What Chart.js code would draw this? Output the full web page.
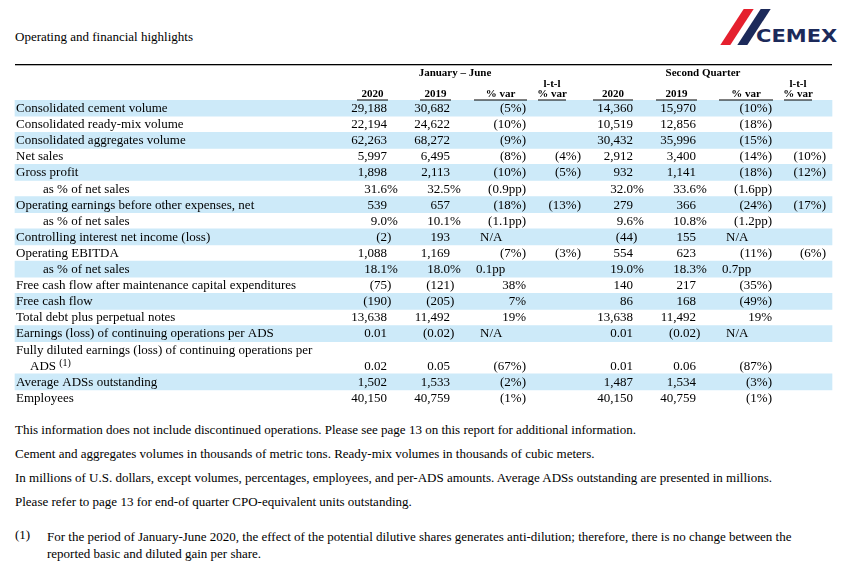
<!DOCTYPE html>
<html>
<head>
<meta charset="utf-8">
<script src="https://cdn.jsdelivr.net/npm/chart.js@4/dist/chart.umd.min.js"></script>
<style>
  body { margin: 0; background: #fff; font-family: "Liberation Serif", serif; color: #000; }
  #wrap { position: relative; width: 843px; height: 568px; }
  #title { position: absolute; left: 15px; top: 29px; font-size: 13px; }
  #tbl { position: absolute; left: 0; top: 0; }
  .note { position: absolute; left: 15px; font-size: 13px; }
  .logo { position: absolute; left: 712px; top: 9px; width: 125px; height: 40px; }
  .bar { position: absolute; top: 0; width: 10px; height: 36px; transform: skewX(-33deg); }
</style>
</head>
<body>
<div id="wrap">
  <div id="title">Operating and financial highlights</div>
  <div class="logo">
    <div class="bar" style="left:20px;background:#e5202e"></div>
    <div class="bar" style="left:37px;background:#1c2a5a"></div>
    <div style="position:absolute;left:44px;top:15px;font:bold 21px 'DejaVu Sans';color:#1c2a5a;transform:scaleY(0.8)">CEMEX</div>
  </div>
  <canvas id="tbl" width="843" height="412"></canvas>
  <div class="note" style="top:422px">This information does not include discontinued operations. Please see page 13 on this report for additional information.</div>
  <div class="note" style="top:446px">Cement and aggregates volumes in thousands of metric tons. Ready-mix volumes in thousands of cubic meters.</div>
  <div class="note" style="top:470px">In millions of U.S. dollars, except volumes, percentages, employees, and per-ADS amounts. Average ADSs outstanding are presented in millions.</div>
  <div class="note" style="top:494px">Please refer to page 13 for end-of quarter CPO-equivalent units outstanding.</div>
  <div class="note" style="top:527px">(1)</div>
  <div class="note" style="top:528px;left:47px;width:775px;line-height:17px">For the period of January-June 2020, the effect of the potential dilutive shares generates anti-dilution; therefore, there is no change between the reported basic and diluted gain per share.</div>
</div>
<script>
// Các dòng của bảng (dòng "Fully diluted" chiếm 2 ô)
const rowLabels = [
  "Consolidated cement volume", "Consolidated ready-mix volume", "Consolidated aggregates volume",
  "Net sales", "Gross profit", "   as % of net sales", "Operating earnings before other expenses, net",
  "   as % of net sales", "Controlling interest net income (loss)", "Operating EBITDA", "   as % of net sales",
  "Free cash flow after maintenance capital expenditures", "Free cash flow", "Total debt plus perpetual notes",
  "Earnings (loss) of continuing operations per ADS", "Fully diluted earnings (loss) of continuing operations per",
  "  ADS", "Average ADSs outstanding", "Employees"
];
const shadedRows = [0, 2, 4, 6, 8, 10, 12, 14, 17];

// Cột: Jan-Jun 2020, 2019, %var, l-t-l; Q2 2020, 2019, %var, l-t-l
const h1_2020 = ["29,188","22,194","62,263","5,997","1,898","31.6%","539","9.0%","(2)","1,088","18.1%","(75)","(190)","13,638","0.01","","0.02","1,502","40,150"];
const h1_2019 = ["30,682","24,622","68,272","6,495","2,113","32.5%","657","10.1%","193","1,169","18.0%","(121)","(205)","11,492","(0.02)","","0.05","1,533","40,759"];
const h1_var  = ["(5%)","(10%)","(9%)","(8%)","(10%)","(0.9pp)","(18%)","(1.1pp)","N/A","(7%)","0.1pp","38%","7%","19%","N/A","","(67%)","(2%)","(1%)"];
const h1_ltl  = ["","","","(4%)","(5%)","","(13%)","","","(3%)","","","","","","","","",""];
const q2_2020 = ["14,360","10,519","30,432","2,912","932","32.0%","279","9.6%","(44)","554","19.0%","140","86","13,638","0.01","","0.01","1,487","40,150"];
const q2_2019 = ["15,970","12,856","35,996","3,400","1,141","33.6%","366","10.8%","155","623","18.3%","217","168","11,492","(0.02)","","0.06","1,534","40,759"];
const q2_var  = ["(10%)","(18%)","(15%)","(14%)","(18%)","(1.6pp)","(24%)","(1.2pp)","N/A","(11%)","0.7pp","(35%)","(49%)","19%","N/A","","(87%)","(3%)","(1%)"];
const q2_ltl  = ["","","","(10%)","(12%)","","(17%)","","","(6%)","","","","","","","","",""];

// vị trí cột (đơn vị trục x)
const columns = [
  { data: h1_2020, right: 387, head: ["2020"], uline: [357, 388] },
  { data: h1_2019, right: 450, head: ["2019"], uline: [420, 451] },
  { data: h1_var,  right: 526, head: ["% var"], uline: [474, 527], varCol: true },
  { data: h1_ltl,  right: 581, head: ["l-t-l", "% var"], uline: [538, 566], ltl: true },
  { data: q2_2020, right: 633, head: ["2020"], uline: [593, 633] },
  { data: q2_2019, right: 696, head: ["2019"], uline: [656, 697] },
  { data: q2_var,  right: 772, head: ["% var"], uline: [719, 773], varCol: true },
  { data: q2_ltl,  right: 826, head: ["l-t-l", "% var"], uline: [784, 812], ltl: true }
];

const FONT = '13px "Liberation Serif"';
const BOLD = 'bold 11px "Liberation Serif"';

const tablePlugin = {
  id: 'tableText',
  afterDatasetsDraw(chart) {
    const ctx = chart.ctx, x = chart.scales.x, y = chart.scales.y;
    const top = chart.chartArea.top;
    ctx.save();
    ctx.fillStyle = '#000';
    ctx.textBaseline = 'middle';
    // đường kẻ trên cùng
    ctx.fillRect(x.getPixelForValue(15), 64, x.getPixelForValue(832) - x.getPixelForValue(15), 1.3);
    // tiêu đề nhóm
    ctx.font = BOLD;
    ctx.textAlign = 'center';
    ctx.fillText('January \u2013 June', x.getPixelForValue(455), 73);
    ctx.fillText('Second Quarter', x.getPixelForValue(703), 73);
    columns.forEach(c => {
      const cx = (x.getPixelForValue(c.uline[0]) + x.getPixelForValue(c.uline[1])) / 2;
      if (c.head.length === 2) {
        ctx.fillText(c.head[0], cx, top - 16);
        ctx.fillText(c.head[1], cx, top - 6);
      } else {
        ctx.fillText(c.head[0], cx, top - 6);
      }
      ctx.fillRect(x.getPixelForValue(c.uline[0]), top - 0.5, x.getPixelForValue(c.uline[1]) - x.getPixelForValue(c.uline[0]), 1);
    });
    ctx.font = FONT;
    // nhãn dòng
    rowLabels.forEach((lab, i) => {
      const py = y.getPixelForValue(i) + 0.5;
      ctx.textAlign = 'left';
      let lx = x.getPixelForValue(16);
      if (lab.startsWith('   ')) lx = x.getPixelForValue(43);
      else if (lab.startsWith('  ')) lx = x.getPixelForValue(30);
      ctx.fillText(lab.trim(), lx, py);
      if (i === 16) {
        const w = ctx.measureText('ADS ').width;
        ctx.font = '10px "Liberation Serif"';
        ctx.fillText('(1)', lx + w, py - 3);
        ctx.font = FONT;
      }
    });
    // giá trị
    const wParen = ctx.measureText(')').width, wPct = ctx.measureText('%').width;
    columns.forEach(c => {
      c.data.forEach((v, i) => {
        if (!v) return;
        const py = y.getPixelForValue(i) + 0.5;
        let rx = x.getPixelForValue(c.right);
        if (c.varCol && (v.endsWith('pp') || v === 'N/A')) {
          ctx.textAlign = 'left';
          ctx.fillText(v, x.getPixelForValue(c.right - 50) + (v === 'N/A' ? 4 : 0), py);
          return;
        }
        ctx.textAlign = 'right';
        if (!c.varCol && !c.ltl) {
          if (v.endsWith(')')) rx += wParen;
          else if (v.endsWith('%')) rx += wPct;
        }
        ctx.fillText(v, rx, py);
      });
    });
    ctx.restore();
  }
};

new Chart(document.getElementById('tbl'), {
  type: 'bar',
  data: {
    labels: rowLabels.map((_, i) => i),
    datasets: [{
      data: rowLabels.map((_, i) => shadedRows.includes(i) ? [15, 832] : null),
      backgroundColor: '#cdeaf9',
      borderWidth: 0,
      barPercentage: 1,
      categoryPercentage: 1
    }]
  },
  options: {
    indexAxis: 'y',
    responsive: false,
    animation: false,
    layout: { padding: { top: 100, bottom: 6, left: 0, right: 0 } },
    plugins: { legend: { display: false }, tooltip: { enabled: false } },
    scales: {
      x: { type: 'linear', min: 0, max: 843, display: false },
      y: { type: 'category', display: false, grid: { display: false } }
    }
  },
  plugins: [tablePlugin]
});
</script>
</body>
</html>
